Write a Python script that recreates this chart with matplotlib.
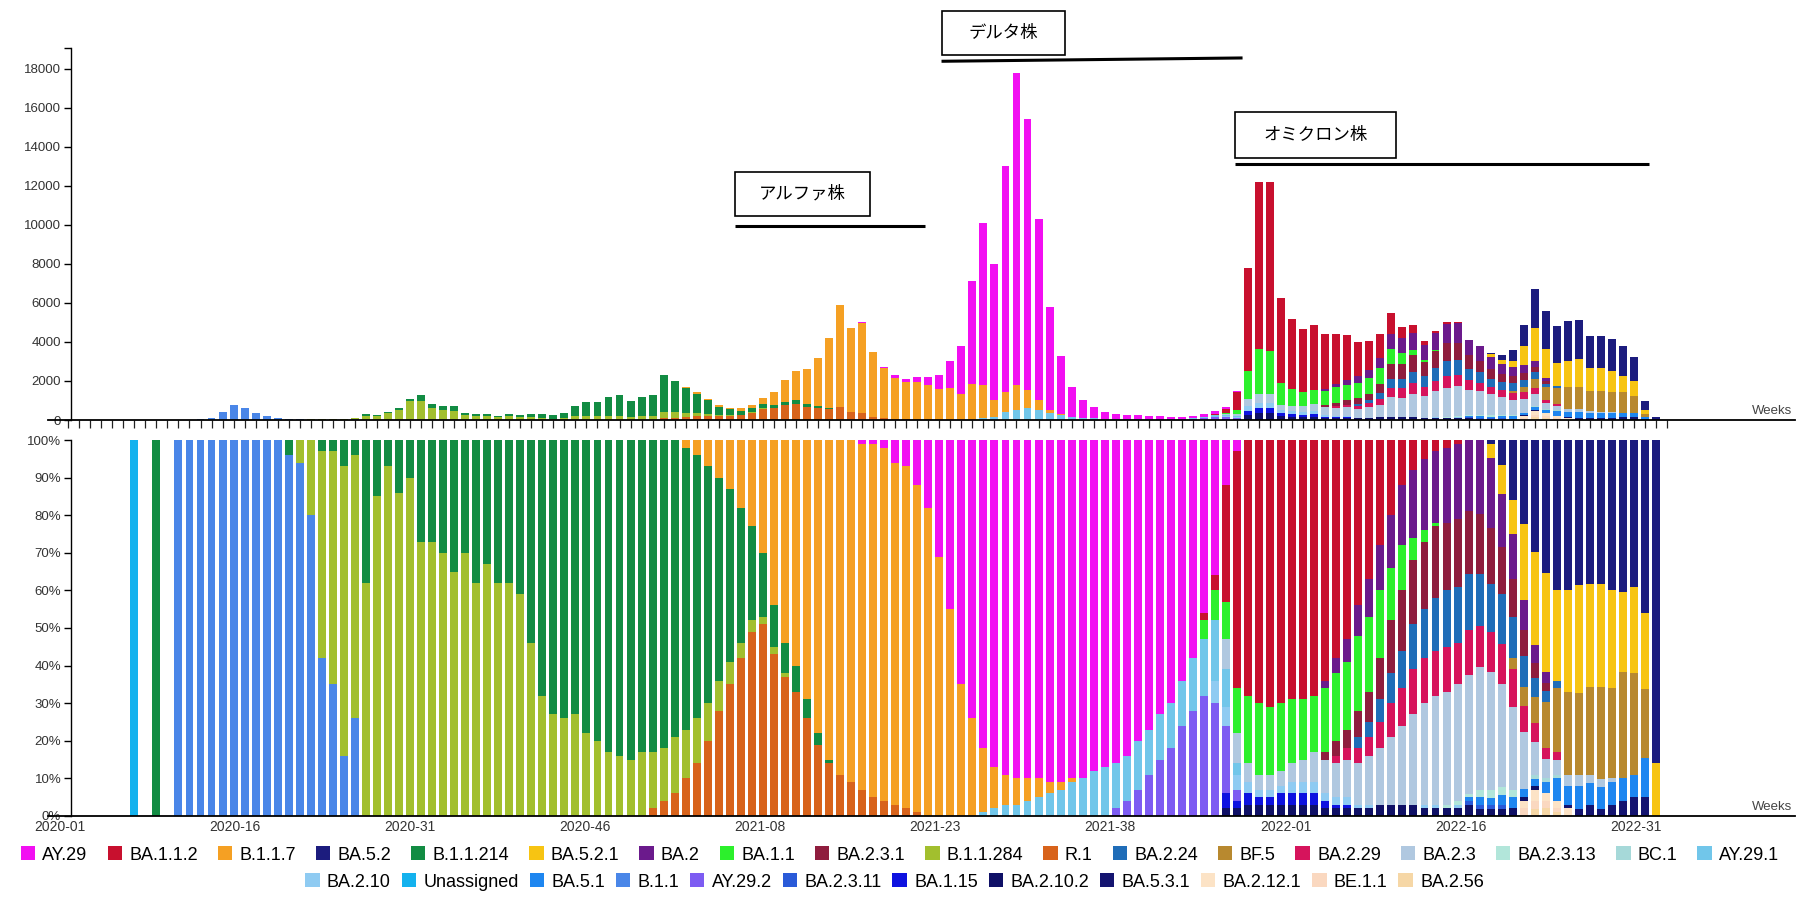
import numpy as np
import matplotlib
matplotlib.use("Agg")
import matplotlib.pyplot as plt
from matplotlib.patches import Patch, Rectangle

plt.rcParams["font.family"] = ["Liberation Sans", "DejaVu Sans"]

# weekly sequence counts, week index 0 = 2020-01 ... 144 = 2022-40
WEEKLY_TOTAL = [
    0, 0, 0, 0, 0, 0, 3, 0, 3, 0,
    8, 15, 40, 120, 430, 780, 610, 350, 210, 120,
    70, 40, 30, 30, 40, 60, 120, 300, 260, 400,
    610, 1080, 1300, 820, 730, 700, 380, 310, 300, 210,
    300, 260, 300, 300, 260, 380, 700, 900, 900, 1180,
    1270, 980, 1180, 1270, 2300, 2000, 1670, 1410, 1080, 750,
    630, 590, 780, 1140, 1410, 2060, 2500, 2600, 3200, 4200,
    5900, 4700, 5000, 3500, 2700, 2300, 2100, 2200, 2200, 2300,
    3000, 3800, 7100, 10100, 8000, 13000, 17800, 15400, 10300, 5800,
    3300, 1700, 1000, 650, 400, 320, 280, 250, 220, 200,
    170, 170, 220, 320, 450, 650, 1500, 7800, 12200, 12200,
    6270, 5160, 4660, 4860, 4400, 4400, 4360, 4000, 4070, 4400,
    5500, 4750, 4860, 4070, 4580, 5030, 5000, 4100, 3800, 3420,
    3320, 3590, 4850, 6690, 5590, 4830, 5050, 5120, 4300, 4300,
    4170, 3800, 3240, 950, 150,
]

# lineage shares in percent: (first week index, weekly values)
AY29 = (72, [1, 1, 2, 6, 7, 12, 18, 31, 45, 65, 74, 82, 87, 89, 90, 90, 90, 91, 91, 90,
             90, 88, 87, 86, 84, 80, 77, 73, 70, 64, 58, 46, 36, 12, 3])
BA_1_1_2 = (103, [2, 4, 31, 63, 68, 70, 71, 70, 69, 69, 68, 64, 58, 53, 44, 37, 28, 20, 12, 8,
                  5, 3, 2, 1])
B_1_1_7 = (56, [2, 4, 7, 10, 13, 18, 23, 30, 44, 54, 60, 69, 78, 85, 89, 91, 92, 94, 94, 91,
                91, 87, 82, 69, 55, 35, 26, 17, 11, 8, 7, 6, 5, 3, 2, 1])
BA_5_2 = (129, [1, 7, 16, 22, 30, 35, 40, 40, 39, 39, 39, 40, 40, 39, 45, 86])
B_1_1_214 = (8, [100, 0, 0, 0, 0, 0, 0, 0, 0, 0, 0, 0, 4, 0, 0, 3, 3, 7, 4, 38,
                 15, 7, 14, 10, 27, 27, 30, 35, 30, 38, 33, 38, 38, 41, 54, 68, 73, 74, 73, 78,
                 80, 83, 84, 85, 83, 83, 82, 79, 75, 70, 63, 54, 46, 36, 25, 17, 11, 8, 7, 5,
                 3, 1])
BA_5_2_1 = (129, [4, 8, 9, 20, 25, 26, 24, 27, 29, 28, 28, 26, 21, 23, 20, 14])
BA_2 = (114, [2, 4, 6, 8, 10, 12, 14, 16, 18, 19, 19, 20, 20, 19, 20, 19, 15, 12, 8, 5, 3])
BA_1_1 = (103, [5, 8, 10, 12, 18, 19, 18, 18, 17, 16, 15, 17, 18, 18, 20, 20, 18, 14, 12, 6,
                3, 1])
BA_2_3_1 = (114, [2, 4, 5, 7, 8, 11, 14, 16, 17, 18, 19, 18, 18, 17, 16, 15, 13, 10, 7, 4, 2])
B_1_1_284 = (21, [6, 20, 55, 62, 77, 70, 62, 85, 93, 86, 90, 73, 73, 70, 65, 70, 62, 67, 62, 62,
                  59, 46, 32, 27, 26, 27, 22, 20, 17, 16, 15, 17, 15, 14, 15, 13, 12, 10, 8, 6,
                  4, 3, 2, 2, 1])
R_1 = (53, [2, 4, 6, 10, 14, 20, 28, 35, 42, 49, 51, 43, 37, 33, 26, 19, 14, 11, 9, 7,
            5, 4, 3, 2, 1])
BA_2_24 = (117, [3, 4, 6, 8, 10, 12, 13, 14, 15, 15, 15, 14, 13, 14, 11, 8, 5, 3, 2])
BF_5 = (131, [3, 5, 7, 12, 17, 22, 22, 24, 25, 24, 28, 27, 18])
BA_2_29 = (115, [2, 3, 4, 5, 7, 9, 10, 12, 12, 12, 12, 11, 12, 11, 11, 11, 10, 7, 5, 3, 2])
BA_2_3 = (105, [8, 8, 5, 4, 4, 4, 5, 6, 8, 9, 9, 10, 11, 13, 15, 18, 21, 24, 27, 29,
                30, 31, 32, 33, 32, 29, 22, 15, 9, 5, 4, 3, 3, 2, 2, 1])
BA_2_3_13 = (125, [1, 1, 1, 2, 2, 2, 2])
BC_1 = (133, [1, 1, 1])
AY29_1 = (83, [1, 2, 3, 3, 4, 5, 6, 7, 9, 10, 12, 13, 12, 12, 13, 12, 12, 12, 12, 14,
               15, 16, 10, 3])
BA_2_10 = (104, [6, 5, 4, 3, 2, 2, 2, 3, 3, 3, 2, 2, 2, 1, 1, 0, 0, 0, 0, 1, 1, 0, 1])
UNASSIGNED = (6, [100])
BA_5_1 = (127, [1, 2, 2, 3, 3, 2, 2, 3, 6, 5, 6, 6, 6, 6, 6, 6, 10])
B_1_1 = (10, [100, 100, 100, 100, 100, 100, 100, 100, 100, 100, 96, 94, 80, 42, 35, 16, 26])
AY29_2 = (95, [2, 4, 7, 11, 15, 18, 24, 28, 32, 30, 18, 3])
BA_2_3_11 = (127, [1, 1, 1, 1])
BA_1_15 = (105, [4, 2, 3, 2, 2, 3, 3, 3, 3, 2, 1, 1])
BA_2_10_2 = (105, [2, 2, 3, 3, 3, 3, 3, 3, 3, 2, 2, 2, 2, 2, 3, 3, 3, 3, 2, 2,
                   2, 2, 3, 2, 2, 2, 2, 1, 1])
BA_5_3_1 = (136, [1, 2, 3, 2, 3, 4, 5, 5])
BA_2_12_1 = (132, [2, 3, 2, 2, 2])
BE_1_1 = (132, [2, 2, 2, 1])
BA_2_56 = (133, [2, 2, 1])

LINEAGES = [
    "AY.29", "BA.1.1.2", "B.1.1.7", "BA.5.2", "B.1.1.214", "BA.5.2.1", "BA.2", "BA.1.1",
    "BA.2.3.1", "B.1.1.284", "R.1", "BA.2.24", "BF.5", "BA.2.29", "BA.2.3", "BA.2.3.13",
    "BC.1", "AY.29.1", "BA.2.10", "Unassigned", "BA.5.1", "B.1.1", "AY.29.2", "BA.2.3.11",
    "BA.1.15", "BA.2.10.2", "BA.5.3.1", "BA.2.12.1", "BE.1.1", "BA.2.56",
]
SERIES = [
    AY29, BA_1_1_2, B_1_1_7, BA_5_2, B_1_1_214, BA_5_2_1, BA_2, BA_1_1,
    BA_2_3_1, B_1_1_284, R_1, BA_2_24, BF_5, BA_2_29, BA_2_3, BA_2_3_13,
    BC_1, AY29_1, BA_2_10, UNASSIGNED, BA_5_1, B_1_1, AY29_2, BA_2_3_11,
    BA_1_15, BA_2_10_2, BA_5_3_1, BA_2_12_1, BE_1_1, BA_2_56,
]
COLORS = [
    "#F20FF2", "#C8102E", "#F5A023", "#1C1C7E", "#128C43", "#F7C412", "#6B1A8C", "#2CF02C",
    "#8F1D3E", "#A2BF2E", "#D8631B", "#1F6DB8", "#B8892F", "#D6145C", "#B0C8E0", "#B2E6DA",
    "#A6D9D9", "#71C6EA", "#8FCBF2", "#14B2EE", "#1E86F0", "#4A86E8", "#7D5CF2", "#2A5AD8",
    "#0E12E0", "#0F1066", "#141470", "#FCE3C6", "#FAD8C0", "#F6D7A6",
]
WEEK_LABELS = ["2020-01", "2020-16", "2020-31", "2020-46", "2021-08",
               "2021-23", "2021-38", "2022-01", "2022-16", "2022-31"]

n_weeks = len(WEEKLY_TOTAL)
share = np.zeros((len(LINEAGES), n_weeks))
for k, (start, vals) in enumerate(SERIES):
    share[k, start:start + len(vals)] = vals
col_sum = share.sum(axis=0)
frac = np.divide(share, col_sum, out=np.zeros_like(share), where=col_sum > 0)
counts = frac * np.array(WEEKLY_TOTAL, dtype=float)
pct = frac * 100.0

W, H = 1800, 901
fig = plt.figure(figsize=(W / 100, H / 100), dpi=100)
x_left, x_right = 48, 1795
ax_top = fig.add_axes([x_left / W, 1 - 420 / H, (x_right - x_left) / W, (420 - 48) / H])
ax_bot = fig.add_axes([x_left / W, 1 - 816 / H, (x_right - x_left) / W, (816 - 440) / H])

x = np.arange(n_weeks)
bar_w = 0.72
base_top = np.zeros(n_weeks)
base_bot = np.zeros(n_weeks)
for k in reversed(range(len(LINEAGES))):
    ax_top.bar(x, counts[k], bar_w, bottom=base_top, color=COLORS[k], linewidth=0)
    ax_bot.bar(x, pct[k], bar_w, bottom=base_bot, color=COLORS[k], linewidth=0)
    base_top += counts[k]
    base_bot += pct[k]

xlim = (-1.83, 156.6)
for ax in (ax_top, ax_bot):
    ax.set_xlim(*xlim)
    ax.spines["top"].set_visible(False)
    ax.spines["right"].set_visible(False)
    ax.spines["left"].set_position(("data", 0.25))
    ax.spines["left"].set_linewidth(1.0)
    ax.spines["bottom"].set_linewidth(1.3)
    ax.tick_params(axis="y", length=5, width=1.0, pad=2, labelsize=9.5, labelcolor="#333333")

ax_top.set_ylim(0, 19060)
ax_top.set_yticks(range(0, 18001, 2000))
ax_top.set_yticks([19060], minor=True)
ax_top.tick_params(axis="y", which="minor", length=5, width=1.0)
ax_top.set_xticks(np.arange(0, 146))
ax_top.set_xticklabels([])
ax_top.tick_params(axis="x", length=6, width=0.9, color="#222222")

ax_bot.set_ylim(0, 100)
ax_bot.set_yticks(range(0, 101, 10))
ax_bot.set_yticklabels([f"{v}%" for v in range(0, 101, 10)])
label_pos = -0.77 + 15.88 * np.arange(len(WEEK_LABELS))
ax_bot.set_xticks(label_pos)
ax_bot.set_xticklabels(WEEK_LABELS)
ax_bot.tick_params(axis="x", length=0, pad=3, labelsize=10, labelcolor="#333333")

fig.text(1792 / W, 1 - 417 / H, "Weeks", ha="right", va="bottom", fontsize=9.5, color="#444444")
fig.text(1792 / W, 1 - 813 / H, "Weeks", ha="right", va="bottom", fontsize=9.5, color="#444444")

# variant period annotations (box x/y range, underline x range and height)
jp = ["Noto Sans CJK JP", "DejaVu Sans"]
notes = [
    ("アルファ株", (60.5, 72.7), (10470, 12700), (60.5, 77.7), (9940, 9940)),
    ("デルタ株", (79.2, 90.4), (18700, 20940), (79.2, 106.5), (18380, 18550)),
    ("オミクロン株", (105.8, 120.4), (13410, 15760), (105.8, 143.4), (13115, 13115)),
]
for text, (bx0, bx1), (by0, by1), (lx0, lx1), (ly0, ly1) in notes:
    ax_top.add_patch(Rectangle((bx0, by0), bx1 - bx0, by1 - by0, facecolor="white",
                               edgecolor="black", linewidth=1.2, clip_on=False, zorder=5))
    ax_top.text((bx0 + bx1) / 2, (by0 + by1) / 2, text, ha="center", va="center",
                fontsize=12.5, family=jp, zorder=6, clip_on=False)
    ax_top.plot([lx0, lx1], [ly0, ly1], color="black", linewidth=2.2,
                solid_capstyle="butt", clip_on=False, zorder=5)

handles = [Patch(facecolor=c, label=l) for l, c in zip(LINEAGES, COLORS)]
leg_kw = dict(frameon=False, fontsize=13, handlelength=0.8, handleheight=0.8,
              handletextpad=0.4, borderpad=0, borderaxespad=0)
fig.legend(handles=handles[:18], ncol=18, loc="center", columnspacing=1.1,
           bbox_to_anchor=(0.5, 1 - 855 / H), **leg_kw)
fig.legend(handles=handles[18:], ncol=12, loc="center", columnspacing=0.6,
           bbox_to_anchor=(0.497, 1 - 882 / H), **leg_kw)

fig.savefig("out.png", dpi=100, facecolor="white")
